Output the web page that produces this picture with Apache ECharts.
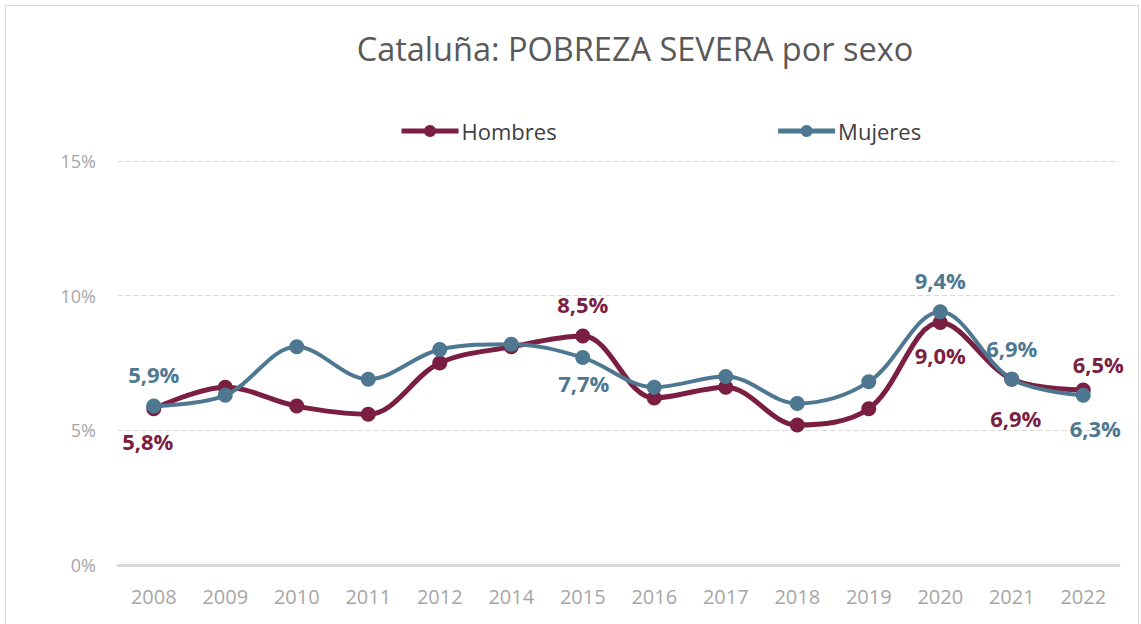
<!DOCTYPE html>
<html>
<head>
<meta charset="utf-8">
<script src="https://cdn.jsdelivr.net/npm/echarts@6/dist/echarts.min.js"></script>
<style>
  html, body { margin: 0; padding: 0; background: #fff; }
  #frame { position: absolute; left: 5px; top: 5px; width: 1134px; height: 625px; border: 1px solid #d9d9d9; box-sizing: border-box; }
  #chart { position: absolute; left: 0; top: 0; width: 1141px; height: 624px; }
</style>
</head>
<body>
<div id="frame"></div>
<div id="chart"></div>
<script>
const years = ["2008", "2009", "2010", "2011", "2012", "2014", "2015", "2016", "2017", "2018", "2019", "2020", "2021", "2022"];
const hombres = [5.8, 6.6, 5.9, 5.6, 7.5, 8.1, 8.5, 6.2, 6.6, 5.2, 5.8, 9.0, 6.9, 6.5];
const mujeres = [5.9, 6.3, 8.1, 6.9, 8.0, 8.2, 7.7, 6.6, 7.0, 6.0, 6.8, 9.4, 6.9, 6.3];
const yTicks = [0, 5, 10, 15];

const colorH = "#7b1f42";
const colorM = "#4e7891";
const font = "Open Sans";

// etiquetas visibles: índice -> [posición, desplazamiento]
const labelsH = { 0: ["bottom", [-6, 1]], 6: ["top", [0, -1]], 11: ["bottom", [0, 1]], 12: ["bottom", [4, 7]], 13: ["top", [15, 6]] };
const labelsM = { 0: ["top", [0, -1]], 6: ["bottom", [1, -6]], 11: ["top", [0, 0]], 12: ["top", [0, 0]], 13: ["bottom", [12, 1]] };

function buildData(values, labels, color) {
    return values.map((v, i) => {
        const item = { value: v };
        if (labels[i]) {
            item.label = {
                show: true,
                position: labels[i][0],
                offset: labels[i][1],
                distance: 13,
                color: color,
                fontFamily: font,
                fontWeight: "bold",
                fontSize: 22,
                formatter: p => p.value.toFixed(1).replace(".", ",") + "%"
            };
        }
        return item;
    });
}

const chart = echarts.init(document.getElementById("chart"), null, { renderer: "svg" });
chart.setOption({
    animation: false,
    backgroundColor: "transparent",
    title: {
        text: "Cataluña: POBREZA SEVERA por sexo",
        left: 630,
        textAlign: "center",
        top: 27,
        textStyle: { color: "#595959", fontFamily: font, fontWeight: "normal", fontSize: 32.5 }
    },
    legend: {
        left: 394,
        top: 115,
        itemWidth: 57,
        itemHeight: 15,
        itemGap: 219,
        textStyle: { color: "#404040", fontFamily: font, fontSize: 22, padding: [0, 0, 0, -2] },
        lineStyle: { width: 5 },
        data: ["Hombres", "Mujeres"]
    },
    grid: { left: 118, right: 22, top: 161, bottom: 59 },
    xAxis: {
        type: "category",
        data: years,
        boundaryGap: true,
        axisLine: { lineStyle: { color: "#d9d9d9", width: 3 } },
        axisTick: { show: false },
        axisLabel: { color: "#a6a6a6", fontFamily: font, fontSize: 20, margin: 21 }
    },
    yAxis: {
        type: "value",
        min: yTicks[0],
        max: yTicks[yTicks.length - 1],
        interval: 5,
        axisLine: { show: false },
        axisTick: { show: false },
        axisLabel: { color: "#a6a6a6", fontFamily: font, fontSize: 18, margin: 22, formatter: "{value}%" },
        splitLine: { lineStyle: { color: "#d9d9d9", type: [5, 3], width: 1 } }
    },
    series: [
        {
            name: "Hombres",
            type: "line",
            smooth: 0.35,
            data: buildData(hombres, labelsH, colorH),
            symbol: "circle",
            symbolSize: 15,
            lineStyle: { color: colorH, width: 5 },
            itemStyle: { color: colorH },
            z: 2
        },
        {
            name: "Mujeres",
            type: "line",
            smooth: 0.35,
            data: buildData(mujeres, labelsM, colorM),
            symbol: "circle",
            symbolSize: 15,
            lineStyle: { color: colorM, width: 4 },
            itemStyle: { color: colorM },
            z: 3
        }
    ]
});
</script>
</body>
</html>
